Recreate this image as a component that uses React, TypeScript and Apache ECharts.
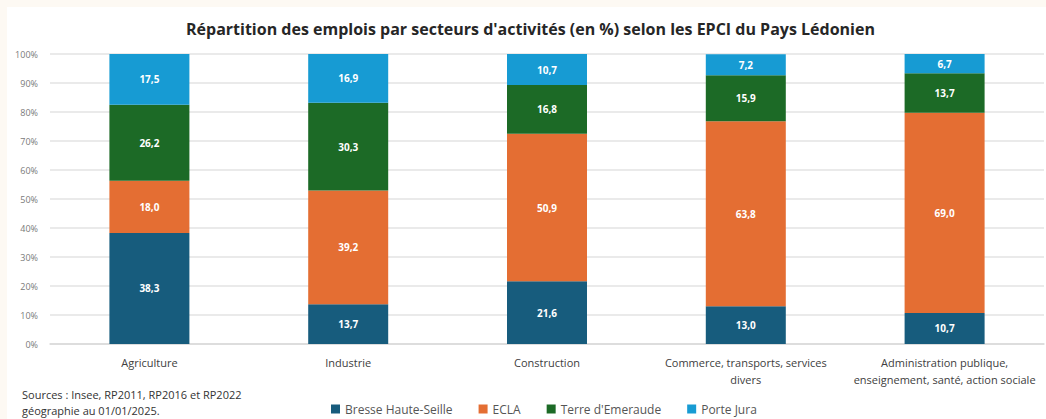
import React, { useEffect, useRef } from "react";
import * as echarts from "echarts";

const categories = [
  "Agriculture",
  "Industrie",
  "Construction",
  "Commerce, transports, services\ndivers",
  "Administration publique,\nenseignement, santé, action sociale",
];
const seriesNames = ["Bresse Haute-Seille", "ECLA", "Terre d'Emeraude", "Porte Jura"];
const bresse = [38.3, 13.7, 21.6, 13.0, 10.7];
const ecla = [18.0, 39.2, 50.9, 63.8, 69.0];
const terre = [26.2, 30.3, 16.8, 15.9, 13.7];
const porteJura = [17.5, 16.9, 10.7, 7.2, 6.7];
const colors = ["#175c7d", "#e46e33", "#1c6a26", "#179bd3"];
const yTicks = [0, 10, 20, 30, 40, 50, 60, 70, 80, 90, 100];

export default function App() {
  const ref = useRef<HTMLDivElement>(null);
  useEffect(() => {
    if (!ref.current) return;
    const chart = echarts.init(ref.current, undefined, { renderer: "svg" });
    const data = [bresse, ecla, terre, porteJura];
    chart.setOption({
      animation: false,
      backgroundColor: "#fdf9f3",
      textStyle: { fontFamily: "'Open Sans', sans-serif" },
      graphic: [
        {
          type: "rect",
          shape: { x: 7, y: 7, width: 1046, height: 420 },
          style: { fill: "#ffffff" },
          z: -10,
          silent: true,
        },
        {
          type: "text",
          left: 22,
          top: 386,
          style: {
            text: "Sources : Insee, RP2011, RP2016 et RP2022\ngéographie au 01/01/2025.",
            fill: "#333333",
            font: "11px 'Open Sans', sans-serif",
            lineHeight: 16,
          },
        },
      ],
      title: {
        text: "Répartition des emplois par secteurs d'activités (en %) selon les EPCI du Pays Lédonien",
        left: 181,
        top: 16,
        textStyle: {
          fontFamily: "'Open Sans', sans-serif",
          fontSize: 16,
          fontWeight: "bold",
          color: "#262626",
        },
      },
      legend: {
        left: 326,
        top: 398,
        itemWidth: 9,
        itemHeight: 9,
        itemGap: 26,
        icon: "rect",
        textStyle: { fontSize: 12, color: "#555555", fontFamily: "'Open Sans', sans-serif" },
        data: seriesNames,
      },
      grid: { left: 50, right: 2, top: 54, bottom: 75, containLabel: false },
      xAxis: {
        type: "category",
        data: categories,
        axisLine: { show: true, lineStyle: { color: "#d9d9d9", width: 1.5 } },
        axisTick: { show: false },
        axisLabel: {
          fontSize: 11,
          color: "#404040",
          margin: 10,
          lineHeight: 17,
          interval: 0,
        },
      },
      yAxis: {
        type: "value",
        min: 0,
        max: 100,
        interval: 10,
        axisLine: { show: false },
        axisTick: { show: false },
        splitLine: { lineStyle: { color: "#e3e3e3", width: 1.5 } },
        axisLabel: {
          fontSize: 9,
          color: "#7a7a7a",
          margin: 12,
          formatter: (v: number) => (yTicks.includes(v) ? v + "%" : ""),
        },
      },
      series: seriesNames.map((name, i) => ({
        name,
        type: "bar",
        stack: "total",
        barWidth: 80,
        data: data[i],
        itemStyle: { color: colors[i] },
        label: {
          show: true,
          position: "inside",
          color: "#ffffff",
          fontSize: 10,
          fontWeight: "bold",
          formatter: (p: any) => Number(p.value).toFixed(1).replace(".", ","),
        },
      })),
    });
    return () => chart.dispose();
  }, []);
  return (
    <div style={{ position: "fixed", left: 0, top: 0, width: 1046, height: 419 }}>
      <div ref={ref} style={{ width: 1046, height: 419 }} />
    </div>
  );
}
